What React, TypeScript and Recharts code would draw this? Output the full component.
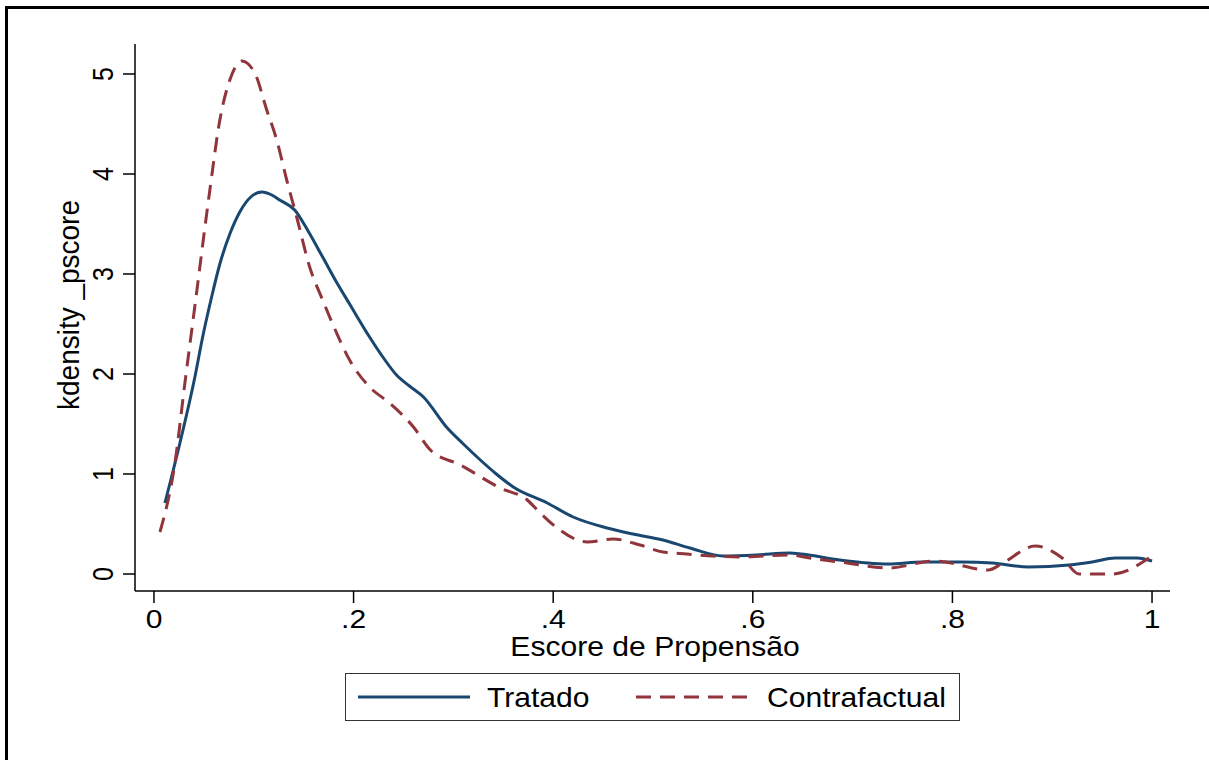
import { LineChart, Line, XAxis, YAxis } from "recharts";

// kernel density estimates
const tratadoX = [
  0.011, 0.026, 0.041, 0.049, 0.058, 0.066, 0.076, 0.086, 0.097, 0.108, 0.118, 0.126, 0.141,
  0.155, 0.169, 0.184, 0.196, 0.216, 0.23, 0.243, 0.256, 0.27, 0.293, 0.31, 0.327, 0.343, 0.36,
  0.394, 0.42, 0.454, 0.48, 0.51, 0.537, 0.57, 0.604, 0.637, 0.649, 0.687, 0.736, 0.77, 0.809,
  0.84, 0.876, 0.917, 0.94, 0.963, 0.985, 1.0,
];
const tratadoY = [
  0.71, 1.31, 1.97, 2.38, 2.78, 3.1, 3.4, 3.62, 3.77, 3.82, 3.79, 3.74, 3.64,
  3.42, 3.17, 2.9, 2.7, 2.37, 2.16, 1.99, 1.88, 1.77, 1.47, 1.3, 1.14, 1.0, 0.87,
  0.71, 0.57, 0.46, 0.4, 0.34, 0.26, 0.18, 0.19, 0.21, 0.2, 0.14, 0.1, 0.12, 0.12,
  0.11, 0.07, 0.09, 0.12, 0.16, 0.16, 0.13,
];

const contraX = [
  0.006, 0.021, 0.031, 0.041, 0.056, 0.066, 0.076, 0.088, 0.101, 0.113, 0.123, 0.133, 0.143,
  0.156, 0.169, 0.183, 0.196, 0.216, 0.236, 0.26, 0.277, 0.307, 0.347, 0.374, 0.387, 0.404,
  0.434, 0.46, 0.487, 0.51, 0.534, 0.56, 0.587, 0.637, 0.657, 0.687, 0.736, 0.782, 0.836,
  0.849, 0.883, 0.91, 0.927, 0.96, 0.997,
];
const contraY = [
  0.42, 1.11, 1.91, 2.68, 3.84, 4.54, 4.94, 5.13, 5.01, 4.64, 4.34, 3.94, 3.57,
  3.07, 2.74, 2.41, 2.14, 1.87, 1.71, 1.47, 1.24, 1.09, 0.86, 0.74, 0.61, 0.46,
  0.32, 0.35, 0.29, 0.22, 0.2, 0.18, 0.17, 0.19, 0.16, 0.12, 0.06, 0.13, 0.04,
  0.1, 0.28, 0.16, 0.0, 0.0, 0.16,
];

const xTicks = [0, 0.2, 0.4, 0.6, 0.8, 1];
const xTickLabels = ["0", ".2", ".4", ".6", ".8", "1"];
const yTicks = [0, 1, 2, 3, 4, 5];

const tratado = tratadoX.map((x, i) => ({ x, y: tratadoY[i] }));
const contrafactual = contraX.map((x, i) => ({ x, y: contraY[i] }));

const series = [
  { name: "Tratado", data: tratado, color: "#1a476f", dash: undefined as string | undefined },
  { name: "Contrafactual", data: contrafactual, color: "#90353b", dash: "15 9" },
];

const FONT = '"Liberation Sans", Arial, sans-serif';
// tick labels vs titles/legend, both a bit widened like the reference
const TICK_FS = 25;
const TICK_STRETCH = 1.2;
const FS = 28;
const STRETCH = 1.075;

function XTick(props: any) {
  const { x, y, payload } = props;
  const i = xTicks.indexOf(payload.value);
  return (
    <text
      transform={`translate(${x},${y + 25}) scale(${TICK_STRETCH},1)`}
      textAnchor="middle"
      fontSize={TICK_FS}
      fontFamily={FONT}
      fill="#000"
    >
      {i >= 0 ? xTickLabels[i] : payload.value}
    </text>
  );
}

function YTick(props: any) {
  const { x, y, payload } = props;
  return (
    <text
      transform={`translate(${x - 10},${y}) scale(${TICK_STRETCH},1) rotate(-90)`}
      textAnchor="middle"
      fontSize={TICK_FS}
      fontFamily={FONT}
      fill="#000"
    >
      {payload.value}
    </text>
  );
}

function LegendBox() {
  return (
    <div
      style={{
        position: "absolute",
        left: 345,
        top: 673,
        width: 615,
        height: 48,
        boxSizing: "border-box",
        border: "1.5px solid #333",
        background: "#fff",
      }}
    >
      <svg width={612} height={45} style={{ display: "block" }}>
        {series.map((s, i) => {
          const x0 = i === 0 ? 12 : 290;
          const tx = i === 0 ? 141 : 421;
          return (
            <g key={s.name}>
              <line
                x1={x0}
                x2={x0 + 112}
                y1={23}
                y2={23}
                stroke={s.color}
                strokeWidth={3}
                strokeDasharray={s.dash}
              />
              <text
                transform={`translate(${tx},33) scale(${STRETCH},1)`}
                fontSize={FS}
                fontFamily={FONT}
                fill="#000"
              >
                {s.name}
              </text>
            </g>
          );
        })}
      </svg>
    </div>
  );
}

export default function App() {
  return (
    <div
      style={{
        position: "fixed",
        left: 0,
        top: 0,
        width: 1209,
        height: 760,
        background: "#fff",
        overflow: "hidden",
      }}
    >
      {/* outer graph frame, extends past the picture */}
      <div
        style={{
          position: "absolute",
          left: 5,
          top: 6,
          width: 1400,
          height: 1000,
          borderLeft: "3px solid #000",
          borderTop: "3px solid #000",
        }}
      />
      <div style={{ position: "absolute", left: 0, top: 0 }}>
        <LineChart
          width={1209}
          height={760}
          margin={{ top: 44, right: 39, bottom: 129, left: 75 }}
        >
          <XAxis
            dataKey="x"
            type="number"
            domain={[-0.019, 1.018]}
            allowDataOverflow
            ticks={xTicks}
            tick={XTick}
            tickSize={12}
            tickMargin={0}
            height={40}
            axisLine={{ stroke: "#000", strokeWidth: 1.5 }}
            tickLine={{ stroke: "#000", strokeWidth: 1.5 }}
            label={{
              content: () => (
                <text
                  transform={`translate(655,656) scale(${STRETCH},1)`}
                  textAnchor="middle"
                  fontSize={FS}
                  fontFamily={FONT}
                  fill="#000"
                >
                  Escore de Propensão
                </text>
              ),
            }}
          />
          <YAxis
            type="number"
            domain={[-0.17, 5.3]}
            allowDataOverflow
            ticks={yTicks}
            tick={YTick}
            tickSize={12}
            tickMargin={0}
            width={60}
            axisLine={{ stroke: "#000", strokeWidth: 1.5 }}
            tickLine={{ stroke: "#000", strokeWidth: 1.5 }}
            label={{
              content: () => (
                <text
                  transform={`translate(79,305) scale(${STRETCH},1) rotate(-90)`}
                  textAnchor="middle"
                  fontSize={FS}
                  fontFamily={FONT}
                  fill="#000"
                >
                  kdensity _pscore
                </text>
              ),
            }}
          />
          {series.map((s) => (
            <Line
              key={s.name}
              data={s.data}
              dataKey="y"
              name={s.name}
              type="monotone"
              stroke={s.color}
              strokeWidth={3}
              strokeDasharray={s.dash}
              dot={false}
              activeDot={false}
              isAnimationActive={false}
            />
          ))}
        </LineChart>
      </div>
      <LegendBox />
    </div>
  );
}
